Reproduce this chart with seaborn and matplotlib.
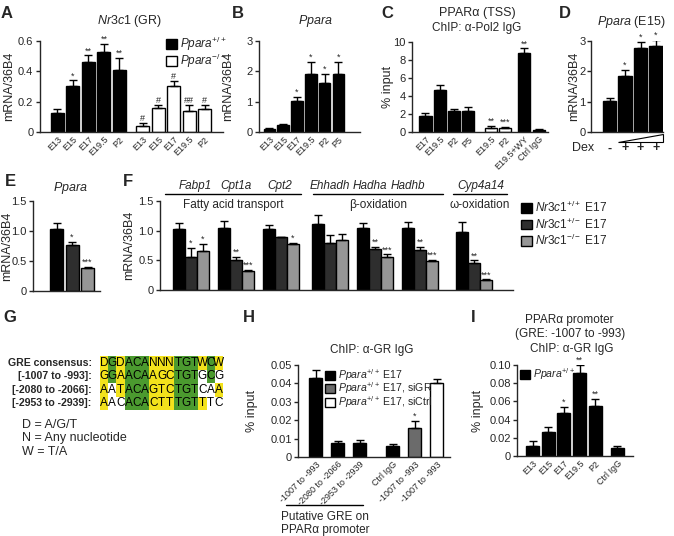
import numpy as np
import pandas as pd
import seaborn as sns
import matplotlib
matplotlib.use('Agg')
import matplotlib.pyplot as plt
from matplotlib.patches import Patch, Polygon
from matplotlib.lines import Line2D
from matplotlib.colors import ListedColormap

# ---- data ----

# A: Nr3c1 (GR)
a_stages = ['E13', 'E15', 'E17', 'E19.5', 'P2']
a_wt = [0.125, 0.30, 0.46, 0.53, 0.41]
a_wt_err = [0.025, 0.04, 0.045, 0.05, 0.08]
a_wt_sig = ['', '*', '**', '**', '**']
a_ko = [0.04, 0.155, 0.305, 0.14, 0.15]
a_ko_err = [0.02, 0.025, 0.03, 0.035, 0.03]
a_ko_sig = ['#', '#', '#', '##', '#']

# B: Ppara
b_stages = ['E13', 'E15', 'E17', 'E19.5', 'P2', 'P5']
b_vals = [0.10, 0.22, 1.02, 1.92, 1.60, 1.92]
b_err = [0.03, 0.05, 0.15, 0.38, 0.32, 0.38]
b_sig = ['', '', '*', '*', '*', '*']

# C: PPARa (TSS), ChIP a-Pol2
c_labels = ['E17', 'E19.5', 'P2', 'P5', 'E19.5', 'P2', 'E19.5+WY', 'Ctrl IgG']
c_vals = [1.8, 4.65, 2.3, 2.35, 0.4, 0.4, 8.8, 0.2]
c_err = [0.35, 0.6, 0.3, 0.45, 0.25, 0.2, 0.5, 0.1]
c_sig = ['', '', '', '', '**', '***', '**', '']
c_colors = ['black', 'black', 'black', 'black', 'white', 'white', 'black', 'black']

# D: Ppara (E15) + Dex
d_dex = ['-', '+', '+', '+']
d_vals = [1.02, 1.83, 2.77, 2.85]
d_err = [0.10, 0.21, 0.19, 0.18]
d_sig = ['', '*', '*', '*']

# E: Ppara by Nr3c1 genotype
e_vals = [1.03, 0.77, 0.38]
e_err = [0.10, 0.05, 0.02]
e_sig = ['', '*', '***']

# F: target genes
f_genes = ['Fabp1', 'Cpt1a', 'Cpt2', 'Ehhadh', 'Hadha', 'Hadhb', 'Cyp4a14']
f_wt = [1.03, 1.05, 1.03, 1.12, 1.04, 1.04, 0.98]
f_wt_err = [0.10, 0.12, 0.07, 0.15, 0.09, 0.11, 0.17]
f_het = [0.56, 0.51, 0.89, 0.79, 0.69, 0.67, 0.46]
f_het_err = [0.15, 0.05, 0.01, 0.14, 0.04, 0.06, 0.04]
f_ko = [0.66, 0.32, 0.77, 0.84, 0.56, 0.49, 0.17]
f_ko_err = [0.12, 0.02, 0.03, 0.10, 0.04, 0.02, 0.01]
f_het_sig = ['*', '**', '', '', '**', '**', '**']
f_ko_sig = ['*', '***', '*', '', '***', '***', '***']
f_groups = ['Fatty acid transport', 'β-oxidation', 'ω-oxidation']

# G: GRE alignment (0 = mismatch, 1 = match, 2 = conserved core)
g_rows = ['GRE consensus:', '[-1007 to -993]:', '[-2080 to -2066]:', '[-2953 to -2939]:']
g_seqs = ['DGDACANNNTGTWCW', 'GGAACAAGCTGTGCG', 'AATACAGTCTGTCAA', 'AACACACTTTGTTTC']
g_codes = [[1, 2, 1, 2, 2, 2, 1, 1, 1, 2, 2, 2, 1, 2, 1],
           [1, 2, 1, 2, 2, 2, 1, 1, 1, 2, 2, 2, 0, 2, 0],
           [1, 0, 1, 2, 2, 2, 1, 1, 1, 2, 2, 2, 0, 0, 1],
           [1, 0, 0, 2, 2, 2, 1, 1, 1, 2, 2, 2, 1, 0, 0]]
g_key = ['D = A/G/T', 'N = Any nucleotide', 'W = T/A']

# H: ChIP a-GR on putative GREs
h_labels = ['-1007 to -993', '-2080 to -2066', '-2953 to -2939', 'Ctrl IgG', '-1007 to -993', '-1007 to -993']
h_vals = [0.043, 0.0075, 0.0075, 0.006, 0.0155, 0.040]
h_err = [0.0045, 0.001, 0.0015, 0.001, 0.004, 0.0023]
h_sig = ['', '', '', '', '*', '']
h_colors = ['black', 'black', 'black', 'black', '#6b6b6b', 'white']

# I: ChIP a-GR on GRE -1007 over development
i_labels = ['E13', 'E15', 'E17', 'E19.5', 'P2', 'Ctrl IgG']
i_vals = [0.0105, 0.026, 0.047, 0.091, 0.055, 0.0085]
i_err = [0.0065, 0.006, 0.007, 0.009, 0.008, 0.0025]
i_sig = ['', '', '*', '**', '**', '']

# ---- style ----
sns.set_style('ticks')
plt.rcParams['font.family'] = ['Liberation Sans', 'DejaVu Sans']
plt.rcParams['mathtext.fontset'] = 'custom'
plt.rcParams['mathtext.rm'] = 'Liberation Sans'
plt.rcParams['mathtext.it'] = 'Liberation Sans:italic'
plt.rcParams['mathtext.bf'] = 'Liberation Sans:bold'

W, H = 674, 536
fig = plt.figure(figsize=(W / 100, H / 100), dpi=100)


def fx(px):
    return px / W


def fy(py):
    return 1 - py / H


def add_ax(l, r, t, b):
    ax = fig.add_axes([fx(l), fy(b), (r - l) / W, (b - t) / H])
    ax.patch.set_alpha(0)
    ax.px = (l, r)
    return ax


def bars(ax, pos, vals, errs, colors, width, sig):
    df = pd.DataFrame({'x': pos, 'y': vals, 'c': colors})
    sns.barplot(data=df, x='x', y='y', hue='c', palette={c: c for c in set(colors)},
                native_scale=True, width=width, dodge=False, errorbar=None, saturation=1,
                edgecolor='black', linewidth=1, legend=False, ax=ax)
    ax.errorbar(pos, vals, yerr=[np.zeros(len(vals)), errs], fmt='none', ecolor='black',
                elinewidth=1, capsize=3, capthick=1)
    for x, v, e, s in zip(pos, vals, errs, sig):
        if s:
            ax.text(x, v + e, s, ha='center', va='bottom', fontsize=6.5)


def style(ax, xlim, ylim, yticks, yticklabels, xpos=None, xlabels=None, ypad=1.5):
    ax.set_xlim(xlim)
    ax.set_ylim(ylim)
    ax.set_yticks(yticks)
    ax.set_yticklabels(yticklabels)
    sns.despine(ax=ax)
    for s in ['left', 'bottom']:
        ax.spines[s].set_linewidth(1)
    ax.tick_params(axis='y', length=3, width=1, labelsize=8, pad=ypad)
    ax.tick_params(axis='x', length=0, labelsize=6.5, pad=2)
    ax.set_xlabel('')
    ax.set_ylabel('')
    if xpos is None:
        ax.set_xticks([])
    else:
        ax.set_xticks(xpos)
        ax.set_xticklabels(xlabels, rotation=45, ha='right', rotation_mode='anchor')


def ylab(ax, text, px):
    l, r = ax.px
    ax.set_ylabel(text, fontsize=9)
    ax.yaxis.label.set_va('center')
    ax.yaxis.set_label_coords((px - l) / (r - l), 0.5)


def ftext(px, py, s, **kw):
    kw.setdefault('ha', 'center')
    kw.setdefault('va', 'center')
    kw.setdefault('fontsize', 9)
    fig.text(fx(px), fy(py), s, **kw)


def legend(ax, colors, labels, px, py, fs=8.5, sp=0.1):
    handles = [Patch(facecolor=c, edgecolor='black', linewidth=1) for c in colors]
    ax.legend(handles, labels, loc='upper left', bbox_to_anchor=(fx(px), fy(py)),
              bbox_transform=fig.transFigure, frameon=False, fontsize=fs,
              handlelength=0.9, handleheight=0.9, handletextpad=0.3,
              labelspacing=sp, borderpad=0, borderaxespad=0)


for letter, x, y in [('A', 7, 14), ('B', 238, 13), ('C', 387, 13), ('D', 565, 14),
                     ('E', 10, 181), ('F', 128, 181), ('G', 10, 317), ('H', 249, 317), ('I', 473, 317)]:
    ftext(x, y, letter, fontsize=12, fontweight='bold')

# ---- A ----
axA = add_ax(39.5, 223, 41, 132)
a_pos_wt = [0, 1, 2, 3, 4]
a_pos_ko = [5.5, 6.5, 7.5, 8.5, 9.5]
bars(axA, a_pos_wt + a_pos_ko, a_wt + a_ko, a_wt_err + a_ko_err,
     ['black'] * 5 + ['white'] * 5, 0.84, a_wt_sig + a_ko_sig)
style(axA, (-1.16, 10.69), (0, 0.6), [0, 0.2, 0.4, 0.6], ['0', '0.2', '0.4', '0.6'],
      a_pos_wt + a_pos_ko, a_stages + a_stages)
ylab(axA, 'mRNA/36B4', 9)
ftext(130, 21, r'$\mathit{Nr3c1}$ (GR)')
legend(axA, ['black', 'white'], [r'$\mathit{Ppara}^{+/+}$', r'$\mathit{Ppara}^{-/-}$'], 166, 35, sp=-0.1)

# ---- B ----
axB = add_ax(259, 360, 41, 132)
b_pos = [0, 1, 2, 3, 4, 5]
bars(axB, b_pos, b_vals, b_err, ['black'] * 6, 0.84, b_sig)
style(axB, (-0.76, 6.56), (0, 3), [0, 1, 2, 3], ['0', '1', '2', '3'], b_pos, b_stages)
ylab(axB, 'mRNA/36B4', 228)
ftext(315, 21, r'$\mathit{Ppara}$')

# ---- C ----
axC = add_ax(412, 548, 42, 132)
c_pos = [0, 1, 2, 3, 4.6, 5.55, 6.9, 7.95]
bars(axC, c_pos, c_vals, c_err, c_colors, 0.9, c_sig)
style(axC, (-0.94, 8.57), (0, 10), [0, 2, 4, 6, 8, 10], ['0', '2', '4', '6', '8', '10'], c_pos, c_labels)
ylab(axC, '% input', 388)
ftext(477, 13, 'PPARα (TSS)')
ftext(477, 28, 'ChIP: α-Pol2 IgG', fontsize=8.5)

# ---- D ----
axD = add_ax(591, 663, 41, 132)
d_pos = [0, 1, 2, 3]
bars(axD, d_pos, d_vals, d_err, ['black'] * 4, 0.89, d_sig)
style(axD, (-1.2, 3.45), (0, 3), [0, 1, 2, 3], ['0', '1', '2', '3'], ypad=1)
ylab(axD, 'mRNA/36B4', 574)
ftext(631, 22, r'$\mathit{Ppara}$ (E15)')
tr = axD.get_xaxis_transform()
axD.text(-1.71, -0.18, 'Dex', transform=tr, ha='center', va='center', fontsize=9)
for x, s in zip(d_pos, d_dex):
    axD.text(x, -0.18, s, transform=tr, ha='center', va='center', fontsize=9, fontweight='bold')
axD.add_patch(Polygon([(0.57, -0.11), (3.42, -0.11), (3.42, -0.022)], closed=True, transform=tr,
                      clip_on=False, facecolor='white', edgecolor='black', linewidth=0.8))

# ---- E ----
f_colors = ['black', '#2e2e2e', '#969696']
axE = add_ax(33, 100, 201, 291)
e_pos = [0, 1, 2]
bars(axE, e_pos, e_vals, e_err, f_colors, 0.84, e_sig)
style(axE, (-1.52, 2.8), (0, 1.5), [0, 0.5, 1.0, 1.5], ['0', '0.5', '1.0', '1.5'])
ylab(axE, 'mRNA/36B4', 7)
ftext(70, 188, r'$\mathit{Ppara}$')

# ---- F ----
axF = add_ax(160, 513, 201, 290)
f_pos = [0, 1, 2, 3.1, 4.1, 5.1, 6.3]
geno = ['wt', 'het', 'ko']
f_df = pd.DataFrame({'x': f_pos * 3, 'y': f_wt + f_het + f_ko,
                     'g': [g for g in geno for _ in f_pos]})
sns.barplot(data=f_df, x='x', y='y', hue='g', hue_order=geno, palette=dict(zip(geno, f_colors)),
            native_scale=True, width=0.8, dodge=True, errorbar=None, saturation=1,
            edgecolor='black', linewidth=1, legend=False, ax=axF)
for k, (vals, errs, sig) in enumerate([(f_wt, f_wt_err, [''] * 7), (f_het, f_het_err, f_het_sig),
                                       (f_ko, f_ko_err, f_ko_sig)]):
    xs = np.array(f_pos) + (k - 1) * 0.8 / 3
    axF.errorbar(xs, vals, yerr=[np.zeros(7), errs], fmt='none', ecolor='black',
                 elinewidth=1, capsize=3, capthick=1)
    for x, v, e, s in zip(xs, vals, errs, sig):
        if s:
            axF.text(x, v + e, s, ha='center', va='bottom', fontsize=6.5)
style(axF, (-0.69, 7.16), (0, 1.5), [0, 0.5, 1.0, 1.5], ['0', '0.5', '1.0', '1.5'])
ylab(axF, 'mRNA/36B4', 129)
for gname, gx in zip(f_genes, [195, 236, 280, 330, 370, 408, 481]):
    ftext(gx, 186, gname, fontstyle='italic', fontsize=8.5)
for (x0, x1), gx, gl in zip([(165, 301), (313, 443), (453, 507)], [233, 378, 480], f_groups):
    fig.add_artist(Line2D([fx(x0), fx(x1)], [fy(194), fy(194)], color='black', linewidth=1,
                          transform=fig.transFigure))
    ftext(gx, 205, gl, fontsize=8.5)
legend(axF, f_colors, [r'$\mathit{Nr3c1}^{+/+}$ E17', r'$\mathit{Nr3c1}^{+/-}$ E17',
                       r'$\mathit{Nr3c1}^{-/-}$ E17'], 521, 200)

# ---- G ----
axG = add_ax(100, 223, 356, 410)
letters = np.array([list(s) for s in g_seqs])
sns.heatmap(np.array(g_codes), cmap=ListedColormap(['white', '#f3e21c', '#4b9a2f']), vmin=0, vmax=2,
            cbar=False, annot=letters, fmt='', annot_kws={'color': 'black', 'fontsize': 8.5},
            xticklabels=False, yticklabels=g_rows, ax=axG)
axG.tick_params(axis='y', length=0, pad=6)
for t in axG.get_yticklabels():
    t.set_rotation(0)
    t.set_fontweight('bold')
    t.set_fontsize(7.6)
for k, s in enumerate(g_key):
    ftext(22, 425 + 13.5 * k, s, ha='left')

# ---- H ----
axH = add_ax(298, 450, 365, 457)
h_pos = [0, 1, 2, 3.5, 4.5, 5.5]
bars(axH, h_pos, h_vals, h_err, h_colors, 0.59, h_sig)
style(axH, (-0.8, 6.11), (0, 0.05), [0, 0.01, 0.02, 0.03, 0.04, 0.05],
      ['0', '0.01', '0.02', '0.03', '0.04', '0.05'], h_pos, h_labels)
ylab(axH, '% input', 252)
ftext(372, 350, 'ChIP: α-GR IgG', fontsize=8.5)
legend(axH, ['black', '#6b6b6b', 'white'],
       [r'$\mathit{Ppara}^{+/+}$ E17', r'$\mathit{Ppara}^{+/+}$ E17, siGR',
        r'$\mathit{Ppara}^{+/+}$ E17, siCtrl'], 325, 367, fs=7.6, sp=-0.2)
fig.add_artist(Line2D([fx(286), fx(363)], [fy(505), fy(505)], color='black', linewidth=1,
                      transform=fig.transFigure))
ftext(325, 517, 'Putative GRE on', fontsize=8.5)
ftext(325, 530, 'PPARα promoter', fontsize=8.5)

# ---- I ----
axI = add_ax(517, 633, 365, 456)
i_pos = [0, 1, 2, 3, 4, 5.4]
bars(axI, i_pos, i_vals, i_err, ['black'] * 6, 0.83, i_sig)
style(axI, (-0.99, 6.4), (0, 0.1), [0, 0.02, 0.04, 0.06, 0.08, 0.10],
      ['0', '0.02', '0.04', '0.06', '0.08', '0.10'], i_pos, i_labels)
ylab(axI, '% input', 478)
ftext(569, 320, 'PPARα promoter', fontsize=8.5)
ftext(570, 334, '(GRE: -1007 to -993)', fontsize=8.5)
ftext(572, 349, 'ChIP: α-GR IgG', fontsize=8.5)
legend(axI, ['black'], [r'$\mathit{Ppara}^{+/+}$'], 520, 366, fs=7.6)

fig.savefig('out.png', dpi=100)
